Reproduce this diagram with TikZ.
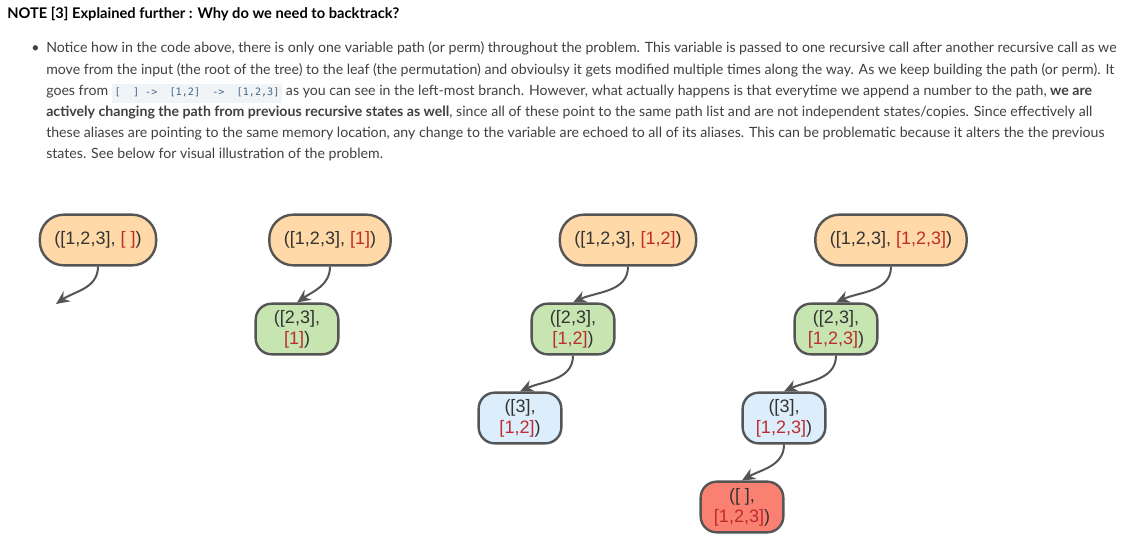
\documentclass[tikz,border=0pt]{standalone}
\usepackage{fontspec}
\setmainfont{Lato}
\newfontfamily\nodefont{Liberation Sans}
\newfontfamily\codefont{DejaVu Sans Mono}
\usetikzlibrary{arrows.meta}
\definecolor{peach}{HTML}{FFD9A8}
\definecolor{leaf}{HTML}{C6E5B1}
\definecolor{sky}{HTML}{DCEEFB}
\definecolor{salmon}{HTML}{FA8072}
\definecolor{edgegray}{HTML}{555555}
\definecolor{pathred}{HTML}{BE2D2D}
\definecolor{darktext}{HTML}{333333}
\definecolor{bodytext}{HTML}{404040}
\definecolor{codebg}{HTML}{F1F4F7}
\definecolor{codetext}{HTML}{476582}
\newcommand{\pth}[1]{\textcolor{pathred}{#1}}
\newcommand{\code}[1]{{\fboxsep=2.2pt\colorbox{codebg}{\codefont\fontsize{7.6}{10}\selectfont\color{codetext}\strut#1}}}

\begin{document}
\begin{tikzpicture}[x=0.75pt,y=-0.75pt,
  every node/.style={inner sep=0pt},
  state/.style={draw=edgegray,line width=1.8pt,text=darktext,align=center,
    font=\nodefont\fontsize{13.5}{15.75}\selectfont,minimum height=38pt},
  top/.style={state,fill=peach,rounded corners=18pt,inner xsep=11pt},
  small/.style={state,rounded corners=12pt,minimum width=62pt,inner xsep=3pt},
  link/.style={draw=edgegray,line width=1.5pt,-{Stealth[length=10pt,width=9pt]}},
  txt/.style={anchor=base west,text=bodytext,font=\fontsize{10.6}{12}\selectfont}]
\useasboundingbox[fill=white] (0,0) rectangle (1135,538);

% the note above the trees
\node[txt,text=black,font=\bfseries\fontsize{11}{12}\selectfont] (title) at (7,19)
  {NOTE [3] Explained further : Why do we need to backtrack?};
\node[txt] (dot) at (31,53) {\textbullet};
\node[txt] (l1) at (46,53) {Notice how in the code above, there is only one variable path (or perm) throughout the problem. This variable is passed to one recursive call after another recursive call as we};
\node[txt] (l2) at (46,75) {move from the input (the root of the tree) to the leaf (the permutation) and obvioulsy it gets modified multiple times along the way. As we keep building the path (or perm). It};
\node[txt] (l3) at (46,96) {goes from \code{[~~]~->~~[1,2]~~->~~[1,2,3]} as you can see in the left-most branch. However, what actually happens is that everytime we append a number to the path, \textbf{we are}};
\node[txt] (l4) at (46,117) {\textbf{actively changing the path from previous recursive states as well}, since all of these point to the same path list and are not independent states/copies. Since effectively all};
\node[txt] (l5) at (46,138) {these aliases are pointing to the same memory location, any change to the variable are echoed to all of its aliases. This can be problematic because it alters the the previous};
\node[txt] (l6) at (46,159) {states. See below for visual illustration of the problem.};

% tops of the four branches
\node[top] (r1) at (98,240) {([1,2,3], \pth{[ ]})};
\node[top] (r2) at (330,240) {([1,2,3], \pth{[1]})};
\node[top] (r3) at (628,240) {([1,2,3], \pth{[1,2]})};
\node[top] (r4) at (891,240) {([1,2,3], \pth{[1,2,3]})};

\node[small,fill=leaf] (g2) at (297,329) {([2,3],\\\pth{[1]})};
\node[small,fill=leaf] (g3) at (573,329) {([2,3],\\\pth{[1,2]})};
\node[small,fill=leaf] (g4) at (836,329) {([2,3],\\\pth{[1,2,3]})};

\node[small,fill=sky] (b3) at (520,418) {([3],\\\pth{[1,2]})};
\node[small,fill=sky] (b4) at (784,418) {([3],\\\pth{[1,2,3]})};

\node[small,fill=salmon] (z4) at (742,507) {([\ ],\\\pth{[1,2,3]})};

% calls
\coordinate (e1) at (56,304);
\draw[link] (r1.south) to[out=-90,in=35] (e1);
\draw[link] (r2.south) to[out=-90,in=35] (g2.north);
\draw[link] (r3.south) to[out=-90,in=25] (g3.north);
\draw[link] (g3.south) to[out=-90,in=25] (b3.north);
\draw[link] (r4.south) to[out=-90,in=25] (g4.north);
\draw[link] (g4.south) to[out=-90,in=25] (b4.north);
\draw[link] (b4.south) to[out=-90,in=30] (z4.north);
\end{tikzpicture}
\end{document}
